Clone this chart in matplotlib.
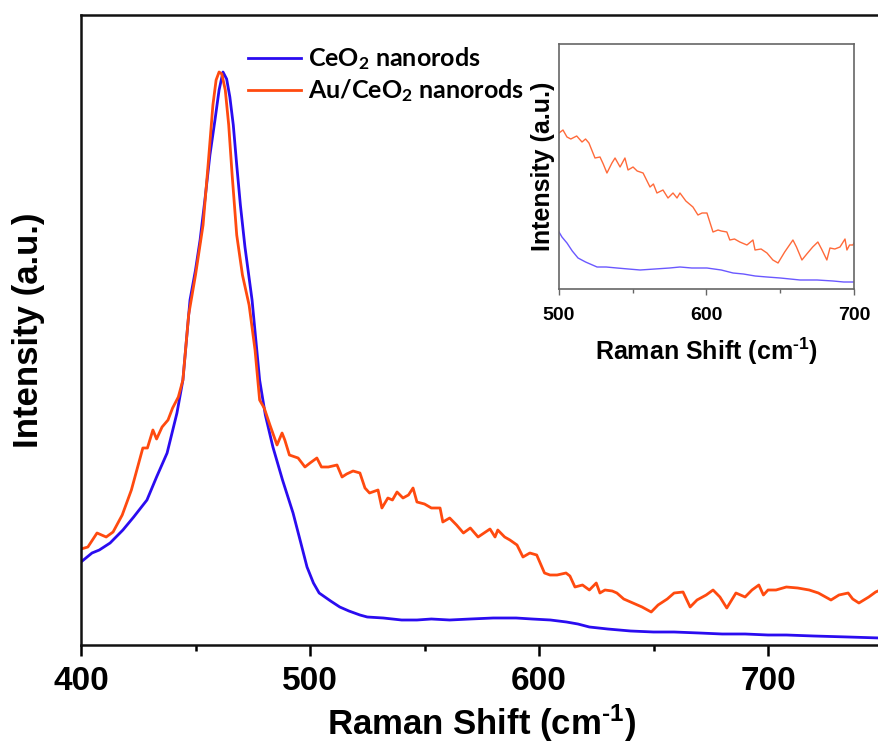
import matplotlib
matplotlib.use("Agg")
import matplotlib.pyplot as plt
from matplotlib.ticker import MultipleLocator

# ---------------- data ----------------
ceo2_x = [400, 404.8, 408, 412.7, 418.3, 423, 428.8, 433, 437.6, 441.9, 444.5, 447.6, 450, 452, 454.1,
          456.3, 458.5, 460.3, 462, 463.6, 465, 466.5, 468, 469.6, 471.6, 474.7, 478, 480.5, 483.8,
          488, 492.6, 496, 498.7, 501.5, 504, 509, 513, 517,
          521.8, 525, 532, 540, 546.7, 553, 561, 570, 580, 590, 597, 605, 612, 617, 622, 630, 640,
          650, 659, 670, 680, 690, 700, 708, 720, 735, 749]
ceo2_y = [83, 92, 95, 102, 115, 128, 145, 168, 192, 232, 265, 345, 375, 405, 445,
          490, 525, 555, 573, 566, 548, 520, 480, 440, 398, 345, 265, 230, 198,
          165, 132, 102, 78, 62, 52, 44, 38, 34,
          30, 28, 27, 25, 25, 26, 25, 26, 27, 27, 26, 25, 23, 21, 18, 16, 14,
          13, 13, 12, 11, 11, 10, 10, 9, 8, 7]

au_x = [400, 403, 407, 411, 414, 418, 422, 427, 429, 431.4, 433, 435.4, 438, 440, 442.5, 444.5, 447,
        450, 453.3, 455.5, 457.6, 459, 460.3, 461.5, 463, 464.5, 466, 468, 470.5, 473.4, 476, 478, 480,
        482.5, 485.6, 487.8,
        489, 491, 494.8, 497.8, 500, 503, 505, 508, 511.8, 514, 516, 518.8, 521.8, 524, 526,
        529.7, 531.4, 534, 536, 538, 540.6, 543, 545, 546.7, 550, 553, 556.8, 558, 561, 564, 567,
        570, 573.4, 576, 578.6, 580.8, 582, 585, 587.3, 590.4, 593, 596, 599, 602.4, 604.8, 607.9,
        611.8, 613.5, 615.7, 619, 622, 625, 626.6, 628.8, 632, 634, 637, 641, 645, 649, 652, 656,
        659, 662.9, 666, 669, 673, 676, 679, 682, 686, 690, 693, 696, 698, 700, 703.5, 708, 713,
        718, 722, 727.5, 731, 735, 737, 739.7, 744, 747, 749]
au_y = [96, 98, 112, 108, 113, 130, 155, 197, 197, 215, 206, 218, 225, 237, 248, 265, 330,
        370, 420, 480, 540, 565, 573, 571, 555, 520, 470, 410, 370, 340, 295, 245, 237,
        220, 200, 212,
        205, 190, 187, 178, 182, 187, 178, 178, 180, 168, 171, 174, 172, 157, 152,
        155, 137, 147, 145, 153, 147, 150, 157, 143, 141, 137, 137, 123, 127, 120, 112,
        117, 108, 112, 116, 108, 115, 108, 105, 100, 88, 92, 90, 72, 70, 70,
        72, 69, 58, 60, 55, 62, 52, 55, 54, 52, 46, 42, 38, 33, 40, 46,
        52, 53, 38, 45, 50, 55, 48, 37, 52, 48, 55, 60, 50, 55, 55, 58, 57,
        55, 52, 45, 50, 52, 46, 42, 48, 53, 55]

inset_au_x = [500, 502.7, 505.4, 508, 512, 515.6, 518, 520.3, 524.4, 527.8, 530, 532.5, 535.9, 538,
              541.4, 544.7, 546.8, 550.2, 553, 557, 561.7, 564, 566.4, 570.5, 573.9, 577.3, 580,
              582, 586, 590.8, 594.2, 597, 600.3, 604.4, 607.8, 610, 613.8, 615.8, 619, 622.6,
              627.4, 631.5, 632.9, 637, 641, 645, 648.5, 653, 658.6, 661, 664.7, 668, 672, 675.5,
              678, 681.6, 683.7, 687, 690.5, 693.9, 695.2, 697, 699.3, 700]
inset_au_y = [156, 159, 152, 150, 153, 147, 150, 146, 131, 132, 125, 116, 126, 131,
              122, 131, 119, 122, 118, 116, 102, 105, 96, 99, 91, 96, 91,
              96, 88, 82, 74, 76, 76, 57, 59, 58, 57, 49, 50, 47,
              44, 49, 39, 40, 36, 29, 26, 37, 49, 42, 29, 35, 42, 47,
              40, 29, 41, 40, 42, 50, 39, 44, 44, 46]

inset_ceo2_x = [500, 502, 505.4, 509, 512.9, 518, 525.8, 532, 539.3, 547, 555, 565, 575, 582, 590,
                600.3, 610, 618, 625, 633, 641, 650, 663.4, 675, 685.8, 693, 700]
inset_ceo2_y = [57, 52, 46, 38, 31, 27, 22, 22, 21, 20, 19, 20, 21, 22, 21,
                21, 19, 16, 15, 13, 12, 11, 9, 9, 8, 7, 7]

labels = ["CeO$_2$ nanorods", "Au/CeO$_2$ nanorods"]
xticks_main = [400, 500, 600, 700]
xticks_inset = [500, 600, 700]

# ---------------- styling ----------------
plt.rcParams["font.family"] = ["Liberation Sans", "DejaVu Sans"]
plt.rcParams["mathtext.default"] = "regular"

blue = "#2a0cf0"
orange = "#ff4a0f"
blue_in = "#6a58ff"
orange_in = "#ff6a3a"

W, H = 879, 747
fig = plt.figure(figsize=(W / 100, H / 100), dpi=100)

ax = fig.add_axes([81 / W, 1 - 645 / H, 801.5 / W, 630 / H])
ax.plot(ceo2_x, ceo2_y, color=blue, lw=2.0, label=labels[0])
ax.plot(au_x, au_y, color=orange, lw=2.0, label=labels[1])
ax.set_xlim(400, 750)
ax.set_ylim(0, 630)
ax.set_xticks(xticks_main)
ax.xaxis.set_minor_locator(MultipleLocator(50))
ax.set_yticks([])
for s in ax.spines.values():
    s.set_linewidth(1.8)
    s.set_color("#111111")
ax.tick_params(axis="x", which="major", direction="out", length=8, width=1.8, pad=7,
               labelsize=24)
ax.tick_params(axis="x", which="minor", direction="out", length=4, width=1.8)
for t in ax.get_xticklabels():
    t.set_fontweight("bold")
ax.set_xlabel("Raman Shift (cm$^{\u2010 1}$)", fontsize=25, fontweight="bold", labelpad=4)
ax.set_ylabel("Intensity (a.u.)", fontsize=25, fontweight="bold", labelpad=26)

leg = ax.legend(loc="upper left", bbox_to_anchor=(236 / W, 1 - 33 / H),
                bbox_transform=fig.transFigure, frameon=False, borderpad=0,
                handlelength=2.1, handletextpad=0.3, labelspacing=0.2,
                prop={"family": ["Lato", "DejaVu Sans"], "size": 18, "weight": "bold"})

# ---------------- inset ----------------
axi = fig.add_axes([559 / W, 1 - 289 / H, 295 / W, 245 / H])
axi.plot(inset_ceo2_x, inset_ceo2_y, color=blue_in, lw=1.0)
axi.plot(inset_au_x, inset_au_y, color=orange_in, lw=1.0)
axi.set_xlim(500, 700)
axi.set_ylim(0, 245)
axi.set_xticks(xticks_inset)
axi.xaxis.set_minor_locator(MultipleLocator(50))
axi.set_yticks([])
for s in axi.spines.values():
    s.set_linewidth(1.2)
    s.set_color("#666666")
axi.tick_params(axis="x", which="major", direction="out", length=4, width=1.0,
                color="#666666", pad=9, labelsize=14)
axi.tick_params(axis="x", which="minor", direction="out", length=3, width=1.0,
                color="#666666")
for t in axi.get_xticklabels():
    t.set_fontweight("bold")
axi.set_xlabel("Raman Shift (cm$^{\u2010 1}$)", fontsize=18, fontweight="bold", labelpad=8)
axi.set_ylabel("Intensity (a.u.)", fontsize=18, fontweight="bold", labelpad=3)

fig.savefig("out.png", dpi=100)
